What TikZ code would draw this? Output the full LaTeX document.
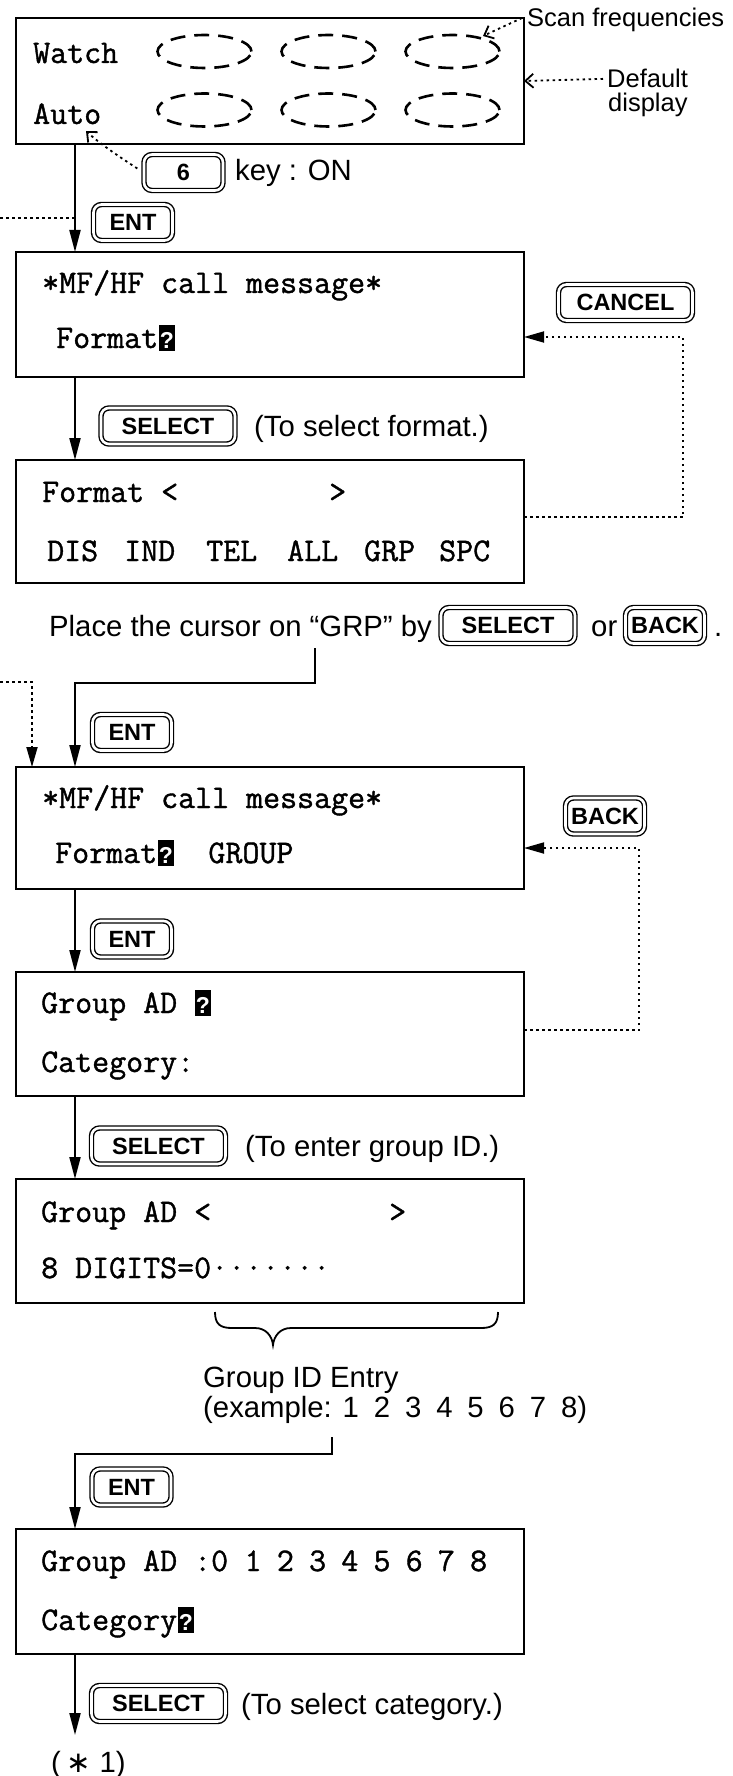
\documentclass[tikz,border=0pt]{standalone}
\usepackage{fontspec}
\usetikzlibrary{arrows.meta}
\newfontfamily\sansf{Liberation Sans}
\newfontfamily\symf{DejaVu Sans}
\newfontfamily\lcdf{lmmono12-regular}[Extension=.otf, FakeBold=1.2]
\newcommand\lcdsize{\fontsize{33}{40}\selectfont}
\newcommand\txtsize{\fontsize{29.3}{30}\selectfont}
\newcommand\notesize{\fontsize{25.5}{26}\selectfont}
\newcommand\keysize{\fontsize{23.5}{24}\selectfont}
% inverse-video cursor cell on the display
\newcommand\qcur{\makebox[17.3pt]{\rlap{\rule[-3pt]{16.5pt}{26pt}}\makebox[16.5pt]{\color{white}\sansf\bfseries\fontsize{23}{23}\selectfont ?}}}
\newcommand\lgap{\hspace{14.9pt}}

\begin{document}
\begin{tikzpicture}[x=1pt,y=-1pt,
  screen/.style={draw, line width=2pt, inner sep=0pt, outer sep=0pt, anchor=north west, minimum width=508pt},
  lcd/.style={font=\lcdf\lcdsize, inner sep=0pt, anchor=base west},
  txt/.style={font=\sansf\txtsize, inner sep=0pt, anchor=base west},
  note/.style={font=\sansf\notesize, inner sep=0pt, anchor=base west},
  keycap/.style={draw, double, double distance=2.6pt, line width=1.4pt, rounded corners=8pt,
                 inner sep=0pt, minimum height=36pt, font=\sansf\bfseries\keysize},
  keyS/.style={keycap, minimum width=79pt},
  keyL/.style={keycap, minimum width=134pt},
  flow/.style={line width=2pt, -{Triangle[length=22pt,width=11pt]}},
  guide/.style={line width=1.8pt, dash pattern=on 2.5pt off 3.5pt},
  guidearrow/.style={guide, -{Triangle[length=20pt,width=11pt]}},
  barbarrow/.style={guide, -{Straight Barb[length=8pt,width=14pt]}},
  freq/.style={line width=2.6pt, dash pattern=on 15pt off 9pt}]

\fill[white] (0,0) rectangle (732,1776);
\useasboundingbox (0,0) rectangle (732,1776);

% ---------- default display ----------
\node[screen, minimum height=126pt] (s1) at (16,18) {};
\node[lcd] (watch) at (33,63) {Watch};
\node[lcd] (auto) at (33,124) {Auto};
\foreach \cx in {204.5,328.5,452.5} {
  \draw[freq] (\cx,51.5) ellipse [x radius=47pt, y radius=16.5pt];
  \draw[freq] (\cx,110) ellipse [x radius=47pt, y radius=16.5pt];
}
\node[note] (scan) at (527,27) {Scan frequencies};
\coordinate (scanfrom) at (522,18);
\coordinate (scanto) at (483,36);
\draw[barbarrow] (scanfrom) -- (scanto);
\node[note] (def1) at (607,88) {Default};
\node[note] (def2) at (608,112) {display};
\draw[barbarrow] ([xshift=-4pt]def1.west) -- (s1.east);

\node[keyS] (key6) at (183.5,172.5) {6};
\node[txt] (keyon) at (235,181) {key : ON};
\coordinate (autotip) at (86,131);
\draw[barbarrow] ([xshift=-6pt,yshift=4pt]key6.west) .. controls (112,152) and (98,142) .. (autotip);

\coordinate (in1) at (0,218);
\coordinate (j1) at (75,218);
\draw[guide] (in1) -- (j1);
\node[keyS] (ent1) at (133,222.5) {ENT};

% ---------- call message: format ----------
\node[screen, minimum height=125pt] (s2) at (16,252) {};
\node[lcd] (s2a) at (42,293) {*MF/HF call message*};
\node[lcd] (s2b) at (56,348) {Format\qcur};
\node[keyL] (cancel) at (625.5,302.5) {CANCEL};
\draw[flow] ([xshift=59pt]s1.south west) -- ([xshift=59pt]s2.north west);

\node[keyL] (sel1) at (168,426) {SELECT};
\node[txt] (sel1t) at (254,436) {(To select format.)};

\node[screen, minimum height=123pt] (s3) at (16,460) {};
\node[lcd] (s3a) at (42,502) {Format <};
\node[lcd] (s3b) at (329,502) {>};
\foreach \w/\x [count=\i] in {DIS/47,IND/124,TEL/206,ALL/287,GRP/364,SPC/439}
  \node[lcd] (fmt\i) at (\x,561) {\w};
\draw[flow] ([xshift=59pt]s2.south west) -- ([xshift=59pt]s3.north west);
\draw[guidearrow] ([yshift=-57pt]s3.north east) -| (683,337) -- ([yshift=-85pt]s2.north east);

% ---------- choose GRP ----------
\node[txt] (place) at (49,636) {Place the cursor on “GRP” by};
\node[keyL] (sel2) at (508,625.5) {SELECT};
\node[txt] (ortxt) at (591,636) {or};
\node[keyS] (back1) at (665,625.5) {BACK};
\node[txt] (dot) at (714,636) {.};

\node[screen, minimum height=122pt] (s4) at (16,767) {};
\coordinate (p1) at (315,648);
\coordinate (p2) at (315,683);
\coordinate (p3) at (75,683);
\draw[flow] (p1) -- (p2) -- (p3) -- ([xshift=59pt]s4.north west);
\coordinate (in2) at (0,682);
\draw[guidearrow] (in2) -| ([xshift=16pt]s4.north west);
\node[keyS] (ent2) at (132,732.5) {ENT};

\node[lcd] (s4a) at (42,808) {*MF/HF call message*};
\node[lcd] (s4b) at (55,863) {Format\qcur\ \ GROUP};
\node[keyS] (back2) at (605,816) {BACK};

% ---------- group address ----------
\node[screen, minimum height=124pt] (s5) at (16,972) {};
\node[lcd] (s5a) at (41,1013) {Group AD \qcur};
\node[lcd] (s5b) at (41,1072) {Category:};
\node[keyS] (ent3) at (132,939) {ENT};
\draw[flow] ([xshift=59pt]s4.south west) -- ([xshift=59pt]s5.north west);
\draw[guidearrow] ([yshift=-58pt]s5.north east) -| (639,848) -- ([yshift=-81pt]s4.north east);

\node[screen, minimum height=124pt] (s6) at (16,1179) {};
\node[keyL] (sel3) at (158.5,1146) {SELECT};
\node[txt] (sel3t) at (245,1156) {(To enter group ID.)};
\draw[flow] ([xshift=59pt]s5.south west) -- ([xshift=59pt]s6.north west);

\node[lcd] (s6a) at (41,1222) {Group AD <};
\node[lcd] (s6b) at (389,1222) {>};
\node[lcd] (s6c) at (41,1278) {8 DIGITS=0·······};

\draw[line width=1.8pt] (215,1312) .. controls (215,1324) and (220,1328) .. (232,1328) -- (255,1328)
  .. controls (266,1328) and (272,1336) .. (273,1345)
  .. controls (274,1336) and (280,1328) .. (291,1328) -- (481,1328)
  .. controls (493,1328) and (498,1324) .. (498,1312);
\node[txt] (gid1) at (203,1387) {Group ID Entry};
\node[txt] (gid2) at (203,1417) {(example: 1\lgap 2\lgap 3\lgap 4\lgap 5\lgap 6\lgap 7\lgap 8)};

\node[screen, minimum height=125pt] (s7) at (16,1529) {};
\coordinate (e1) at (332,1437);
\coordinate (e2) at (332,1454);
\coordinate (e3) at (75,1454);
\draw[flow] (e1) -- (e2) -- (e3) -- ([xshift=59pt]s7.north west);
\node[keyS] (ent4) at (131.5,1487) {ENT};

\node[lcd] (s7a) at (41,1571) {Group AD :0};
\foreach \d [count=\i from 0] in {1,...,8}
  \node[lcd] (dg\d) at (244.5+32.2*\i,1571) {\d};
\node[lcd] (s7b) at (41,1630) {Category\qcur};

\coordinate (out) at (75,1735);
\draw[flow] ([xshift=59pt]s7.south west) -- (out);
\node[keyL] (sel4) at (158.5,1703.5) {SELECT};
\node[txt] (sel4t) at (241,1714) {(To select category.)};
\node[txt] (note1) at (51,1772) {(\hspace{6pt}{\symf ∗}\hspace{8pt}1)};

\end{tikzpicture}
\end{document}
